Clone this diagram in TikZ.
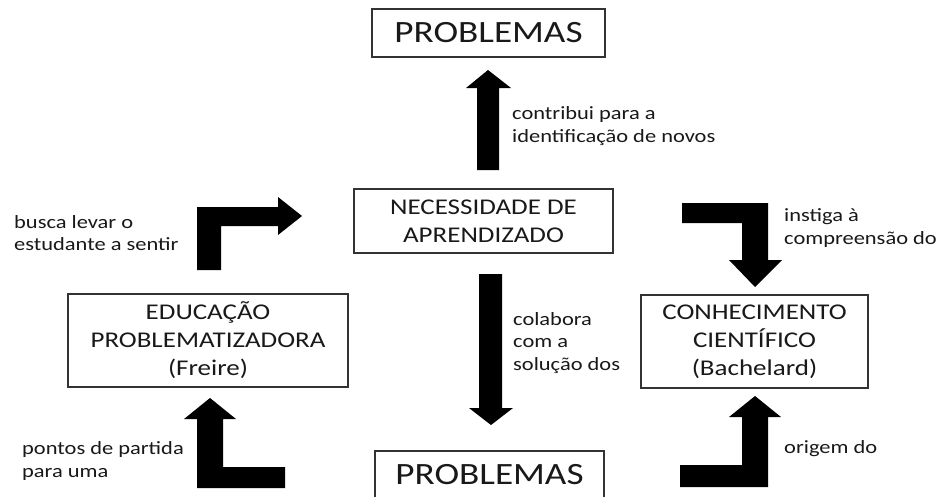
\documentclass[tikz,border=0pt]{standalone}
\usepackage{fontspec}
\setmainfont[FakeStretch=1.2]{Carlito}
\begin{document}
\begin{tikzpicture}[x=1pt,y=-1pt,
  box/.style={draw=black!80, line width=1.3pt, inner sep=0pt, align=center, text=black!90},
  big/.style={font=\fontsize{31}{36}\selectfont},
  mid/.style={font=\fontsize{22.5}{28}\selectfont},
  lbl/.style={font=\fontsize{18.7}{22.5}\selectfont, align=left, anchor=west, inner sep=0pt, text=black!90},
  blk/.style={fill=black}]
\useasboundingbox[fill=white] (0,0) rectangle (939,496);
% boxes
\node[box,big,minimum width=233pt,minimum height=48pt] (p1) at (488.5,33) {PROBLEMAS};
\node[box,mid,minimum width=259pt,minimum height=64pt] (nec) at (483.5,221) {NECESSIDADE DE\\APRENDIZADO};
\node[box,mid,minimum width=280pt,minimum height=93pt] (edu) at (208,340.5) {EDUCAÇÃO\\PROBLEMATIZADORA\\(Freire)};
\node[box,mid,minimum width=227pt,minimum height=93pt] (con) at (754.5,341.5) {CONHECIMENTO\\CIENTÍFICO\\(Bachelard)};
\node[box,big,minimum width=229pt,minimum height=47pt] (p2) at (489.5,474.5) {PROBLEMAS};
% block arrows
\fill[blk] (477,170) -- (499,170) -- (499,88) -- (511,88) -- (488,70) -- (466,88) -- (477,88) -- cycle;
\fill[blk] (479,274) -- (502,274) -- (502,408) -- (513,408) -- (491,425) -- (469,408) -- (479,408) -- cycle;
\fill[blk] (197,270) -- (221,270) -- (221,226) -- (278,226) -- (278,235) -- (302,216) -- (278,197) -- (278,207) -- (197,207) -- cycle;
\fill[blk] (682,203) -- (768,203) -- (768,260) -- (782,260) -- (755,287) -- (729,260) -- (742,260) -- (742,223) -- (682,223) -- cycle;
\fill[blk] (285,488) -- (197,488) -- (197,419) -- (184,419) -- (210,398) -- (236,419) -- (223,419) -- (223,467) -- (285,467) -- cycle;
\fill[blk] (680,465) -- (742,465) -- (742,417) -- (729,417) -- (755,396) -- (781,417) -- (768,417) -- (768,487) -- (680,487) -- cycle;
% labels
\node[lbl] (l1) at (512,126) {contribui para a\\identificação de novos};
\node[lbl] (l2) at (14,233) {busca levar o\\estudante a sentir};
\node[lbl] (l3) at (784,228) {instiga à\\compreensão do};
\node[lbl] (l4) at (513,343) {colabora\\com a\\solução dos};
\node[lbl] (l5) at (22,461) {pontos de partida\\para uma};
\node[lbl] (l6) at (784,449) {origem do};
\end{tikzpicture}
\end{document}
